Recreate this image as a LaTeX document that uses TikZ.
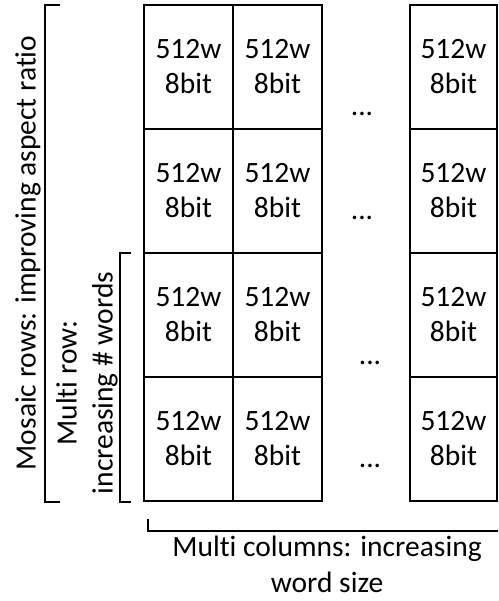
\documentclass[tikz,border=0pt]{standalone}
\usepackage{fontspec}
\setmainfont[Ligatures=NoCommon]{Carlito}
\begin{document}
\begin{tikzpicture}[x=1pt,y=-1pt,
  cell/.style={draw,line width=1.2pt,minimum width=89pt,minimum height=124pt,inner sep=0pt,align=center,font=\fontsize{29.5}{35}\selectfont},
  lbl/.style={align=center,inner sep=0pt,font=\fontsize{29.5}{36}\selectfont},
  brk/.style={line width=1.2pt}]
\useasboundingbox (0,0) rectangle (498,601);
% cells
\foreach \r/\y in {1/67,2/191,3/315,4/439}{
  \node[cell] (c\r a) at (188.5,\y) {512w\\8bit};
  \node[cell] (c\r b) at (277.5,\y) {512w\\8bit};
  \node[cell,minimum width=87pt] (c\r c) at (453.5,\y) {512w\\8bit};
}
% dots
\node[lbl,anchor=base] (d1) at (362,116) {...};
\node[lbl,anchor=base] (d2) at (362,220) {...};
\node[lbl,anchor=base] (d3) at (370,364) {...};
\node[lbl,anchor=base] (d4) at (370,467) {...};
% brackets
\draw[brk] (60,5) -- (45,5) -- (45,502) -- (60,502);
\draw[brk] (131,253) -- (120,253) -- (120,502) -- (131,502);
\draw[brk] (148,519) -- (148,531) -- (498,531);
% labels
\node[lbl,rotate=90] (outer) at (28,253) {Mosaic rows: improving aspect ratio};
\node[lbl,rotate=90] (inner) at (87,383) {Multi row:\\increasing \# words};
\node[lbl] (bottom) at (327,564) {Multi columns: increasing\\word size};
\end{tikzpicture}
\end{document}
